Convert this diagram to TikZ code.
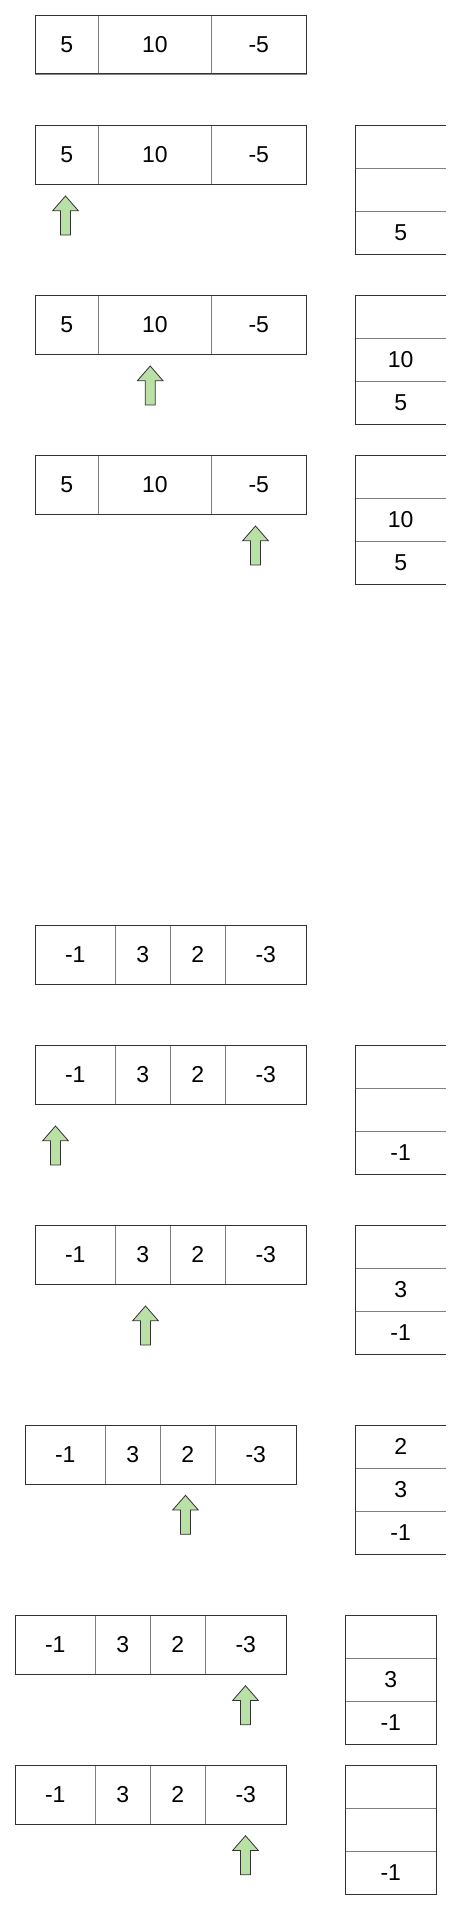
\documentclass[tikz,border=0pt]{standalone}
\usepackage{fontspec}
\setmainfont{Liberation Sans}
\definecolor{outerc}{HTML}{333333}
\definecolor{divc}{HTML}{808080}
\definecolor{ptrfill}{HTML}{B9E0A5}
\newcommand\arrcell[6]{\node[cell, minimum width={(#3-#2)*1pt}, minimum height={(#5-#4)*1pt}] (#1) at ({(#2+#3)/2},{(#4+#5)/2}) {#6};}
\newcommand\stkcell[6]{\node[scell, minimum width={(#3-#2)*1pt}, minimum height={(#5-#4)*1pt}] (#1) at ({(#2+#3)/2},{(#4+#5)/2}) {#6};}
\newcommand\upptr[3]{\draw[ptr] (#2,#3) coordinate (#1) -- ++(12.8,14.7) -- ++(-7.8,0) -- ++(0,24.3) -- ++(-10,0) -- ++(0,-24.3) -- ++(-7.8,0) -- cycle;}
\tikzset{
  cell/.style={draw=divc, line width=0.9pt, rectangle, inner sep=0pt, outer sep=0pt, font=\fontsize{23}{27}\selectfont},
  scell/.style={draw=none, rectangle, inner sep=0pt, outer sep=0pt, font=\fontsize{23}{27}\selectfont},
  outer/.style={draw=outerc, line width=1pt},
  divider/.style={draw=divc, line width=0.9pt},
  ptr/.style={draw=outerc, fill=ptrfill, line width=0.8pt, line join=miter},
}
\begin{document}
\begin{tikzpicture}[x=1pt,y=-1pt]
\useasboundingbox (0,0) rectangle (461,1911);
\fill[white] (0,0) rectangle (461,1911);

% ---------- first example: arrays ----------
% row 1
\arrcell{a1c1}{35.3}{98.3}{15.3}{74}{5}
\arrcell{a1c2}{98.3}{211.3}{15.3}{74}{10}
\arrcell{a1c3}{211.3}{306.3}{15.3}{74}{-5}
\draw[outer] (a1c1.north west) rectangle (a1c3.south east);
% row 2
\arrcell{a2c1}{35.3}{98.3}{125.7}{184}{5}
\arrcell{a2c2}{98.3}{211.3}{125.7}{184}{10}
\arrcell{a2c3}{211.3}{306.3}{125.7}{184}{-5}
\draw[outer] (a2c1.north west) rectangle (a2c3.south east);
\upptr{p2}{65.5}{196}
% row 3
\arrcell{a3c1}{35.3}{98.3}{295.3}{354.3}{5}
\arrcell{a3c2}{98.3}{211.3}{295.3}{354.3}{10}
\arrcell{a3c3}{211.3}{306.3}{295.3}{354.3}{-5}
\draw[outer] (a3c1.north west) rectangle (a3c3.south east);
\upptr{p3}{150.2}{366}
% row 4
\arrcell{a4c1}{35.3}{98.3}{455.7}{514.3}{5}
\arrcell{a4c2}{98.3}{211.3}{455.7}{514.3}{10}
\arrcell{a4c3}{211.3}{306.3}{455.7}{514.3}{-5}
\draw[outer] (a4c1.north west) rectangle (a4c3.south east);
\upptr{p4}{255.5}{526}

% ---------- first example: stacks (right border cut off) ----------
% stack 1
\stkcell{s1a}{355.7}{445.7}{125.7}{168.7}{}
\stkcell{s1b}{355.7}{445.7}{168.7}{211.3}{}
\stkcell{s1c}{355.7}{445.7}{211.3}{254.3}{5}
\draw[divider] (s1a.south west) -- (s1a.south east) (s1b.south west) -- (s1b.south east);
\draw[outer] (s1a.north east) -- (s1a.north west) -- (s1c.south west) -- (s1c.south east);
% stack 2
\stkcell{s2a}{355.7}{445.7}{295.3}{338.3}{}
\stkcell{s2b}{355.7}{445.7}{338.3}{381.3}{10}
\stkcell{s2c}{355.7}{445.7}{381.3}{424.3}{5}
\draw[divider] (s2a.south west) -- (s2a.south east) (s2b.south west) -- (s2b.south east);
\draw[outer] (s2a.north east) -- (s2a.north west) -- (s2c.south west) -- (s2c.south east);
% stack 3
\stkcell{s3a}{355.7}{445.7}{455.7}{498.3}{}
\stkcell{s3b}{355.7}{445.7}{498.3}{541.3}{10}
\stkcell{s3c}{355.7}{445.7}{541.3}{584}{5}
\draw[divider] (s3a.south west) -- (s3a.south east) (s3b.south west) -- (s3b.south east);
\draw[outer] (s3a.north east) -- (s3a.north west) -- (s3c.south west) -- (s3c.south east);

% ---------- second example: arrays ----------
% row 5
\arrcell{a5c1}{35.3}{115.3}{925.3}{984.3}{-1}
\arrcell{a5c2}{115.3}{170.3}{925.3}{984.3}{3}
\arrcell{a5c3}{170.3}{225.3}{925.3}{984.3}{2}
\arrcell{a5c4}{225.3}{306.3}{925.3}{984.3}{-3}
\draw[outer] (a5c1.north west) rectangle (a5c4.south east);
% row 6
\arrcell{a6c1}{35.3}{115.3}{1045.3}{1104.3}{-1}
\arrcell{a6c2}{115.3}{170.3}{1045.3}{1104.3}{3}
\arrcell{a6c3}{170.3}{225.3}{1045.3}{1104.3}{2}
\arrcell{a6c4}{225.3}{306.3}{1045.3}{1104.3}{-3}
\draw[outer] (a6c1.north west) rectangle (a6c4.south east);
\upptr{p6}{55.5}{1126}
% row 7
\arrcell{a7c1}{35.3}{115.3}{1225.3}{1284.3}{-1}
\arrcell{a7c2}{115.3}{170.3}{1225.3}{1284.3}{3}
\arrcell{a7c3}{170.3}{225.3}{1225.3}{1284.3}{2}
\arrcell{a7c4}{225.3}{306.3}{1225.3}{1284.3}{-3}
\draw[outer] (a7c1.north west) rectangle (a7c4.south east);
\upptr{p7}{145.5}{1306}
% row 8
\arrcell{a8c1}{25.3}{105.3}{1425.3}{1484.3}{-1}
\arrcell{a8c2}{105.3}{160.3}{1425.3}{1484.3}{3}
\arrcell{a8c3}{160.3}{215.3}{1425.3}{1484.3}{2}
\arrcell{a8c4}{215.3}{296.3}{1425.3}{1484.3}{-3}
\draw[outer] (a8c1.north west) rectangle (a8c4.south east);
\upptr{p8}{185.5}{1495.3}
% row 9
\arrcell{a9c1}{15.3}{95.3}{1615.3}{1674.3}{-1}
\arrcell{a9c2}{95.3}{150.3}{1615.3}{1674.3}{3}
\arrcell{a9c3}{150.3}{205.3}{1615.3}{1674.3}{2}
\arrcell{a9c4}{205.3}{286.3}{1615.3}{1674.3}{-3}
\draw[outer] (a9c1.north west) rectangle (a9c4.south east);
\upptr{p9}{245.5}{1685.7}
% row 10
\arrcell{a10c1}{15.3}{95.3}{1765.3}{1824.3}{-1}
\arrcell{a10c2}{95.3}{150.3}{1765.3}{1824.3}{3}
\arrcell{a10c3}{150.3}{205.3}{1765.3}{1824.3}{2}
\arrcell{a10c4}{205.3}{286.3}{1765.3}{1824.3}{-3}
\draw[outer] (a10c1.north west) rectangle (a10c4.south east);
\upptr{p10}{245.5}{1835.7}

% ---------- second example: stacks ----------
% stack 4
\stkcell{s4a}{355.7}{445.7}{1045.3}{1088.3}{}
\stkcell{s4b}{355.7}{445.7}{1088.3}{1131}{}
\stkcell{s4c}{355.7}{445.7}{1131}{1174.3}{-1}
\draw[divider] (s4a.south west) -- (s4a.south east) (s4b.south west) -- (s4b.south east);
\draw[outer] (s4a.north east) -- (s4a.north west) -- (s4c.south west) -- (s4c.south east);
% stack 5
\stkcell{s5a}{355.7}{445.7}{1225.3}{1268.3}{}
\stkcell{s5b}{355.7}{445.7}{1268.3}{1311.3}{3}
\stkcell{s5c}{355.7}{445.7}{1311.3}{1354.3}{-1}
\draw[divider] (s5a.south west) -- (s5a.south east) (s5b.south west) -- (s5b.south east);
\draw[outer] (s5a.north east) -- (s5a.north west) -- (s5c.south west) -- (s5c.south east);
% stack 6
\stkcell{s6a}{355.7}{445.7}{1425.3}{1468}{2}
\stkcell{s6b}{355.7}{445.7}{1468}{1511.3}{3}
\stkcell{s6c}{355.7}{445.7}{1511.3}{1554}{-1}
\draw[divider] (s6a.south west) -- (s6a.south east) (s6b.south west) -- (s6b.south east);
\draw[outer] (s6a.north east) -- (s6a.north west) -- (s6c.south west) -- (s6c.south east);
% stack 7 (closed)
\stkcell{s7a}{345.3}{436.3}{1615.3}{1658.3}{}
\stkcell{s7b}{345.3}{436.3}{1658.3}{1701.3}{3}
\stkcell{s7c}{345.3}{436.3}{1701.3}{1744.3}{-1}
\draw[divider] (s7a.south west) -- (s7a.south east) (s7b.south west) -- (s7b.south east);
\draw[outer] (s7a.north west) rectangle (s7c.south east);
% stack 8 (closed)
\stkcell{s8a}{345.3}{436.3}{1765.3}{1808.3}{}
\stkcell{s8b}{345.3}{436.3}{1808.3}{1851.3}{}
\stkcell{s8c}{345.3}{436.3}{1851.3}{1894.3}{-1}
\draw[divider] (s8a.south west) -- (s8a.south east) (s8b.south west) -- (s8b.south east);
\draw[outer] (s8a.north west) rectangle (s8c.south east);
\end{tikzpicture}
\end{document}
